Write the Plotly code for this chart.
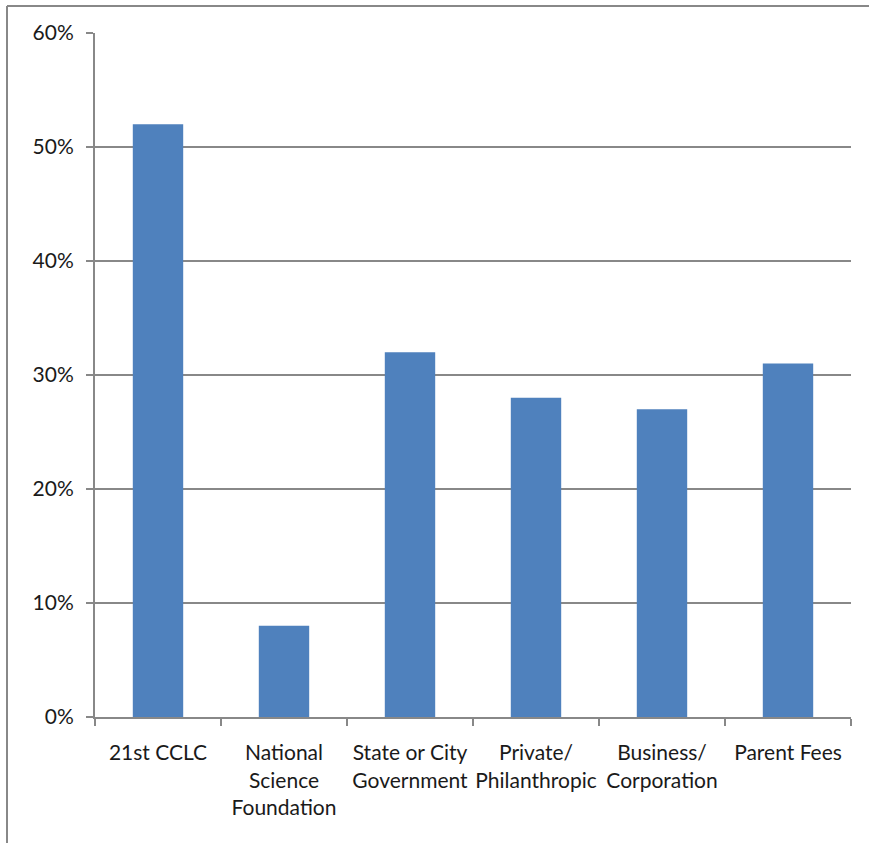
import plotly.graph_objects as go

# Funding sources and share of programs reporting each
categories = [
    "21st CCLC",
    "National<br>Science<br>Foundation",
    "State or City<br>Government",
    "Private/<br>Philanthropic",
    "Business/<br>Corporation",
    "Parent Fees",
]
shares = [0.52, 0.08, 0.32, 0.28, 0.27, 0.31]
y_ticks = [0, 0.1, 0.2, 0.3, 0.4, 0.5, 0.6]

W, H = 869, 843
L, R, T, B = 95, 18, 33, 126
pw, ph = W - L - R, H - T - B

bar_color = "#4F81BD"
line_gray = "#888888"
font = dict(family="Lato, Carlito, Calibri, sans-serif", size=21, color="#1a1a1a")

fig = go.Figure(
    go.Bar(
        x=categories,
        y=shares,
        marker=dict(color=bar_color, line=dict(width=0)),
        width=0.4,
    )
)

# outer frame of the chart area (only top and left edges fall inside the page)
fx = (7 - L) / pw
fy = (H - B - 6) / ph
frame = dict(color=line_gray, width=2)
shapes = [
    dict(type="line", xref="paper", yref="paper", x0=fx, x1=fx, y0=-0.3, y1=fy, line=frame),
    dict(type="line", xref="paper", yref="paper", x0=fx, x1=1.2, y0=fy, y1=fy, line=frame),
]

fig.update_layout(
    width=W,
    height=H,
    margin=dict(l=L, r=R, t=T, b=B, pad=0),
    paper_bgcolor="white",
    plot_bgcolor="white",
    font=font,
    showlegend=False,
    shapes=shapes,
    bargap=0.6,
    xaxis=dict(
        type="category",
        tickson="boundaries",
        ticks="outside",
        ticklen=7,
        tickwidth=2,
        tickcolor=line_gray,
        showline=True,
        linecolor=line_gray,
        linewidth=2,
        showgrid=False,
        tickangle=0,
        ticklabelstandoff=16,
        range=[-0.5, 5.5],
    ),
    yaxis=dict(
        range=[0, 0.6],
        tickvals=y_ticks,
        tickformat=".0%",
        ticks="outside",
        ticklen=7,
        tickwidth=2,
        tickcolor=line_gray,
        showline=True,
        linecolor=line_gray,
        linewidth=2,
        showgrid=True,
        gridcolor=line_gray,
        gridwidth=2,
        zeroline=False,
        ticklabelstandoff=8,
    ),
)

fig.write_html("out.html")
